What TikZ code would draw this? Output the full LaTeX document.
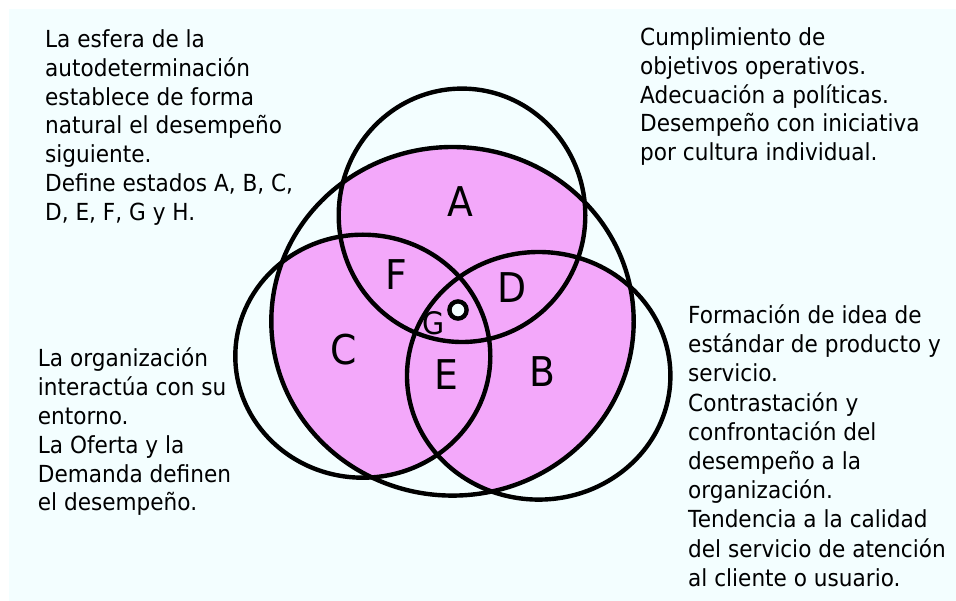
\documentclass[tikz,border=0pt]{standalone}
\usepackage{fontspec}
\setmainfont{DejaVu Sans}[FakeStretch=0.92]
\definecolor{fondo}{RGB}{243,254,255}
\definecolor{rosa}{RGB}{243,168,250}

\begin{document}
\begin{tikzpicture}[
        x=1pt, y=-1pt,
        every node/.style={inner sep=0pt},
        texto/.style={anchor=north west, align=left, font=\fontsize{23.5}{28.8}\selectfont},
        letra/.style={font=\fontsize{41}{42}\selectfont},
        borde/.style={line width=4.4pt}
        ]
    \useasboundingbox (0,0) rectangle (956,601);
    \fill[white] (0,0) rectangle (956,601);
    \fill[fondo] (9,9) rectangle (956,601);
    % zona rosa dentro de la esfera grande
    \begin{scope}
        \clip (452.5,321.3) ellipse [x radius=181.2pt, y radius=174.3pt];
        \fill[rosa] (462,215.3) ellipse [x radius=123.3pt, y radius=126.7pt];
        \fill[rosa] (362.8,356.2) ellipse [x radius=127.5pt, y radius=121.5pt];
        \fill[rosa] (538.7,375.8) ellipse [x radius=131.7pt, y radius=123.8pt];
    \end{scope}
    \draw[borde] (452.5,321.3) ellipse [x radius=181.2pt, y radius=174.3pt];
    \draw[borde] (462,215.3) ellipse [x radius=123.3pt, y radius=126.7pt];
    \draw[borde] (362.8,356.2) ellipse [x radius=127.5pt, y radius=121.5pt];
    \draw[borde] (538.7,375.8) ellipse [x radius=131.7pt, y radius=123.8pt];
    \draw[borde, fill=fondo] (458,310) circle [radius=8.6pt];

    \node[letra] (A) at (460,201.7) {A};
    \node[letra] (B) at (542.7,371.7) {B};
    \node[letra] (C) at (343.3,350) {C};
    \node[letra] (D) at (511.7,288) {D};
    \node[letra] (E) at (446.7,375) {E};
    \node[letra] (F) at (396,275) {F};
    \node[font=\fontsize{31}{32}\selectfont] (G) at (434,323.5) {G};

    \node[texto] (esfera) at (45,29.5) {La esfera de la\\autodeterminación\\establece de forma\\natural el desempeño\\siguiente.\\Define estados A, B, C,\\D, E, F, G y H.};
    \node[texto] (cumplimiento) at (640,27.5) {Cumplimiento de\\objetivos operativos.\\Adecuación a políticas.\\Desempeño con iniciativa\\por cultura individual.};
    \node[texto] (organizacion) at (37.7,348) {La organización\\interactúa con su\\entorno.\\La Oferta y la\\Demanda definen\\el desempeño.};
    \node[texto, font=\fontsize{23.5}{29.2}\selectfont] (formacion) at (688,304.5) {Formación de idea de\\estándar de producto y\\servicio.\\Contrastación y\\confrontación del\\desempeño a la\\organización.\\Tendencia a la calidad\\del servicio de atención\\al cliente o usuario.};
\end{tikzpicture}
\end{document}
